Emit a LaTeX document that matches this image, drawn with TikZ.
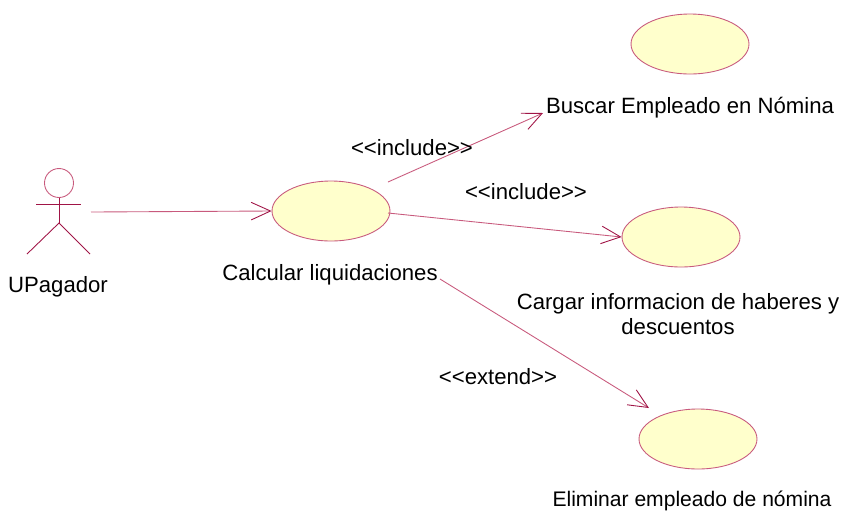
\documentclass[tikz,border=0pt]{standalone}
\usepackage{fontspec}
\setmainfont{Liberation Sans}
\usetikzlibrary{arrows.meta,shapes.geometric}
\definecolor{umlline}{RGB}{160,20,70}
\definecolor{umlsoft}{RGB}{200,90,125}
\definecolor{umlfill}{RGB}{255,255,204}
\tikzset{
  usecase/.style={ellipse,draw=umlsoft,fill=umlfill,line width=0.5pt,minimum width=2.36cm,minimum height=1.2cm,inner sep=0pt},
  lbl/.style={font=\fontsize{12.6}{14.7}\selectfont,text=black,align=center,inner sep=0pt},
  link/.style={draw=umlsoft,line width=0.5pt,-{Straight Barb[length=11pt,width=10pt,color=umlline]}},
  stick/.style={draw=umlline,line width=0.5pt}
}
\begin{document}
\begin{tikzpicture}[x=0.02cm,y=-0.02cm]%846x512
      \useasboundingbox (0,0) rectangle (846,512);
      % actor
      \node[circle,draw=umlsoft,line width=0.5pt,minimum size=0.58cm,inner sep=0pt] (head) at (59,183) {};
      \coordinate (hip) at (59,223);
      \coordinate (armL) at (36,204);
      \coordinate (armR) at (81,204);
      \coordinate (footL) at (27,254);
      \coordinate (footR) at (90,254);
      \draw[stick] (head.south) -- (hip);
      \draw[stick] (armL) -- (armR);
      \draw[stick] (footL) -- (hip) -- (footR);
      \node[lbl] (upagador) at (58,287) {UPagador};
      % use cases
      \node[usecase] (calc) at (331,211) {};
      \node[usecase] (buscar) at (690,44) {};
      \node[usecase] (cargar) at (681,237) {};
      \node[usecase] (elim) at (698,439) {};
      \node[lbl] (calclbl) at (330,275) {Calcular liquidaciones};
      \node[lbl] (buscarlbl) at (690,108) {Buscar Empleado en Nómina};
      \node[lbl] (cargarlbl) at (678,314) {Cargar informacion de haberes y\\descuentos};
      \node[lbl,font=\fontsize{12}{14}\selectfont] (elimlbl) at (692,501) {Eliminar empleado de nómina};
      % connectors
      \coordinate (actorR) at (91,212);
      \coordinate (calcTop) at (388,182);
      \coordinate (calcRight) at (388,213);
      \coordinate (calcBelow) at (440,279);
      \coordinate (buscarIn) at (543,113);
      \coordinate (elimIn) at (649,408);
      \draw[link] (actorR) -- (calc.west);
      \draw[link] (calcTop) -- (buscarIn);
      \draw[link] (calcRight) -- (cargar.west);
      \draw[link] (calcBelow) -- (elimIn);
      \node[lbl] (inc1) at (412,148) {<{}<include>{}>};
      \node[lbl] (inc2) at (526,192) {<{}<include>{}>};
      \node[lbl] (ext) at (498,377) {<{}<extend>{}>};
    \end{tikzpicture}
\end{document}
